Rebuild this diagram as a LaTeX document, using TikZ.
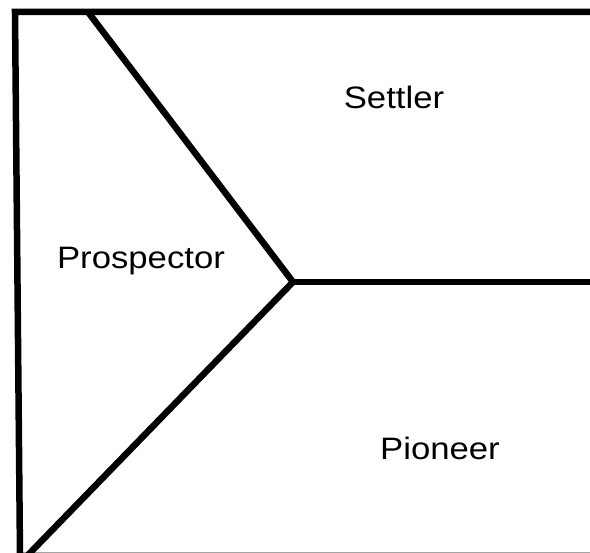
\documentclass[tikz,border=0pt]{standalone}
\usepackage{fontspec}
\setmainfont{Liberation Sans}
\begin{document}
\begin{tikzpicture}[x=1pt,y=-1pt,
  wall/.style={line width=6.5pt,line join=miter},
  zonetext/.style={font=\fontsize{31}{37}\selectfont,anchor=base,xscale=1.12}]
  \useasboundingbox (0,0) rectangle (590,553);
  % corners of the frame (right and bottom sides run off the picture)
  \coordinate (tr) at (592,12);
  \coordinate (tl) at (15,12);
  \coordinate (bl) at (20,556);
  \coordinate (br) at (592,556);
  % meeting point of the three zones
  \coordinate (hub) at (293,282);
  \coordinate (topcut) at (88,12);
  \coordinate (botcut) at (27,556);
  \coordinate (rightcut) at (592,282);
  % frame
  \draw[wall] (tr) -- (tl) -- (bl) -- (br);
  % dividing lines
  \draw[wall] (topcut) -- (hub) -- (botcut);
  \draw[wall] (hub) -- (rightcut);
  % zone names
  \node[zonetext] (prospector) at (141,269) {Prospector};
  \node[zonetext] (settler) at (394,109) {Settler};
  \node[zonetext] (pioneer) at (440,460) {Pioneer};
\end{tikzpicture}
\end{document}
